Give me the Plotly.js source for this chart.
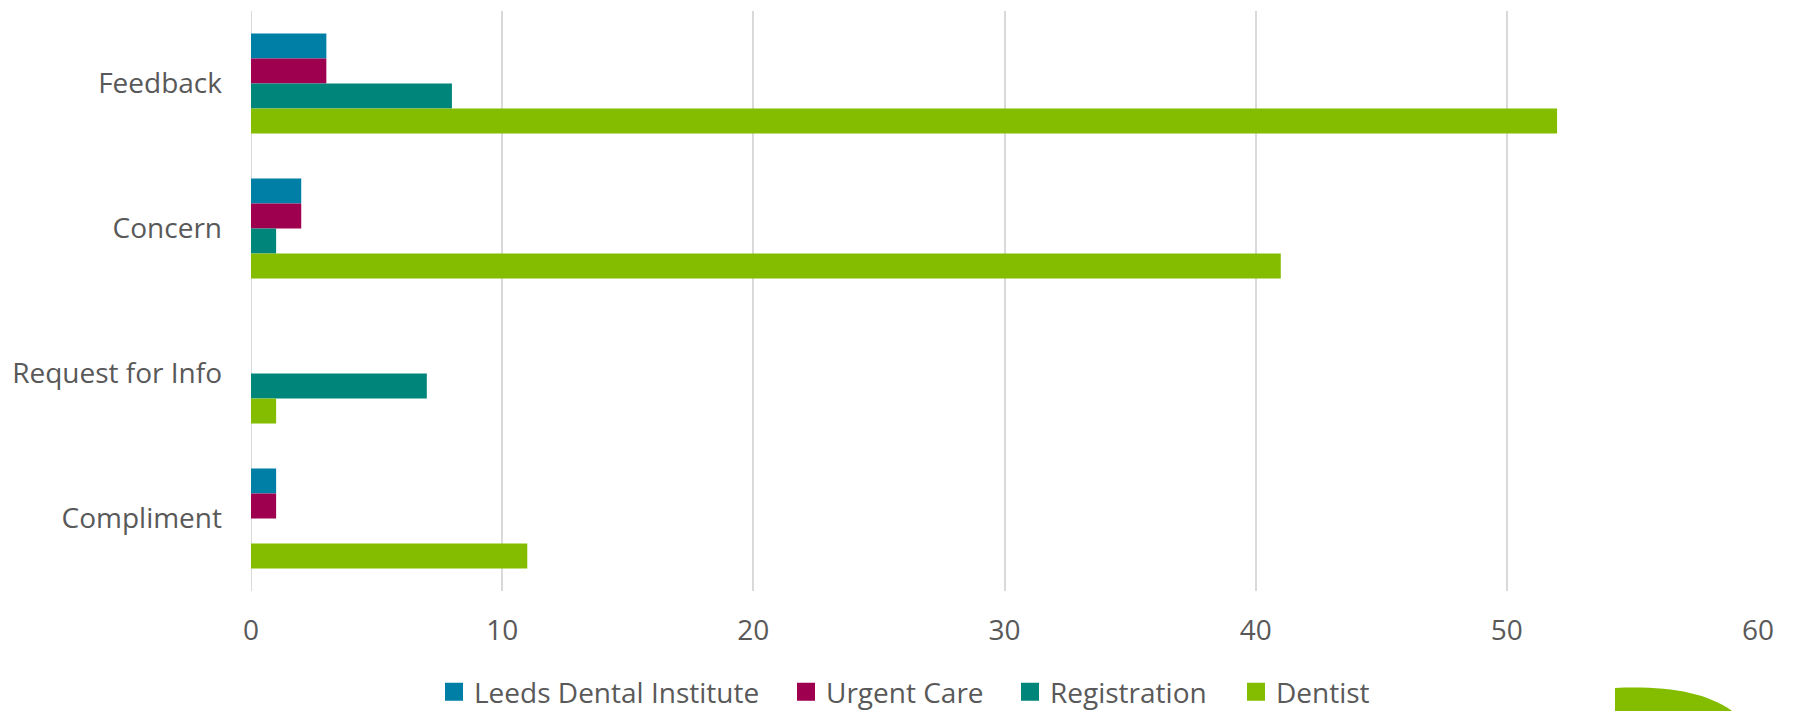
<!DOCTYPE html>
<html>
<head>
<meta charset="utf-8">
<script src="https://cdn.plot.ly/plotly-3.0.1.min.js"></script>
<style>html,body{margin:0;padding:0;background:#fff;} #chart{width:1797px;height:711px;}</style>
</head>
<body>
<div id="chart"></div>
<script>
var categories = ["Feedback", "Concern", "Request for Info", "Compliment"];
var seriesNames = ["Leeds Dental Institute", "Urgent Care", "Registration", "Dentist"];
var leedsDental = [3, 2, 0, 1];
var urgentCare = [3, 2, 0, 1];
var registration = [8, 1, 7, 0];
var dentist = [52, 41, 1, 11];
var xTicks = [0, 10, 20, 30, 40, 50, 60];
var colors = ["#007FA6", "#9E004F", "#00857A", "#84BD00"];

var values = [leedsDental, urgentCare, registration, dentist];
var legendIds = ["legend", "legend2", "legend3", "legend4"];

var traces = values.map(function (v, i) {
  return {
    type: "bar",
    orientation: "h",
    name: seriesNames[i],
    y: categories,
    x: v,
    marker: {color: colors[i], line: {width: 0}},
    showlegend: false,
    hoverinfo: "x+name"
  };
});
// legend entries with square swatches
seriesNames.forEach(function (n, i) {
  traces.push({
    type: "scatter",
    mode: "markers",
    name: n,
    x: [null],
    y: [null],
    marker: {symbol: "square", size: 16, color: colors[i], line: {color: colors[i], width: 2}},
    legend: legendIds[i],
    showlegend: true,
    hoverinfo: "skip"
  });
});

var font = {family: "Open Sans, sans-serif", size: 28, color: "#595959"};

// legend swatch left edges in pixels (layout positions)
var legendLeftPx = [445, 797, 1021, 1247];

var layout = {
  width: 1797,
  height: 711,
  margin: {l: 251, r: 39, t: 11, b: 120},
  paper_bgcolor: "#ffffff",
  plot_bgcolor: "#ffffff",
  barmode: "group",
  bargap: 0.31,
  bargroupgap: 0,
  font: font,
  showlegend: true,
  xaxis: {
    range: [0, 60],
    tickvals: xTicks,
    ticktext: xTicks.map(String),
    showgrid: true,
    gridcolor: "#D9D9D9",
    gridwidth: 2,
    zeroline: false,
    showline: false,
    ticks: "",
    ticklabelstandoff: 20,
    tickfont: font,
    fixedrange: true
  },
  yaxis: {
    type: "category",
    autorange: "reversed",
    showgrid: false,
    zeroline: false,
    showline: false,
    ticks: "",
    ticklabelstandoff: 28,
    tickfont: font,
    fixedrange: true
  },
  shapes: [
    {type: "line", xref: "x", yref: "paper", x0: 0, x1: 0, y0: 0, y1: 1,
     line: {color: "#D9D9D9", width: 2}, layer: "below"},
    {type: "path", xref: "paper", yref: "paper",
     path: "M 0.9051,-0.2069 L 0.9051,-0.1672 C 0.94,-0.1638 0.9648,-0.1741 0.9828,-0.2069 Z",
     fillcolor: "#84BD00", line: {width: 0}, layer: "above"}
  ]
};

legendIds.forEach(function (id, i) {
  layout[id] = {
    orientation: "h",
    xref: "container",
    yref: "container",
    x: (legendLeftPx[i] - 11) / 1797,
    xanchor: "left",
    y: 1 - 692 / 711,
    yanchor: "middle",
    font: font,
    bgcolor: "rgba(0,0,0,0)",
    borderwidth: 0
  };
});

Plotly.newPlot("chart", traces, layout, {displayModeBar: false, staticPlot: true});
</script>
</body>
</html>
